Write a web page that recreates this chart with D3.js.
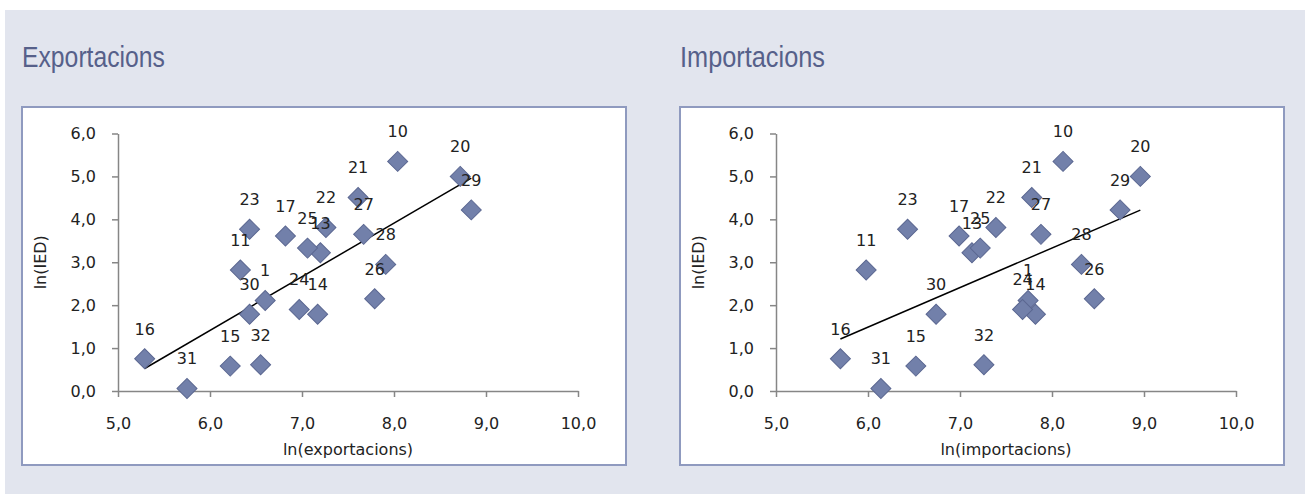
<!DOCTYPE html>
<html>
<head>
<meta charset="utf-8">
<script src="https://cdn.jsdelivr.net/npm/d3@7"></script>
<style>
  html, body { margin: 0; padding: 0; background: #ffffff; }
  svg { display: block; }
</style>
</head>
<body>
<svg id="chart" width="1309" height="494"></svg>
<script>
// Region identifiers (point labels)
const regionIds = [1, 10, 11, 13, 14, 15, 16, 17, 20, 21, 22, 23, 24, 25, 26, 27, 28, 29, 30, 31, 32];
// ln(IED) – shared vertical value of both panels
const lnIED = [2.11, 5.35, 2.82, 3.22, 1.79, 0.58, 0.75, 3.61, 5.00, 4.51, 3.81, 3.77, 1.90, 3.33, 2.15, 3.65, 2.95, 4.22, 1.79, 0.06, 0.61];
// ln(exportacions)
const lnExport = [6.60, 8.04, 6.33, 7.20, 7.17, 6.22, 5.29, 6.82, 8.72, 7.61, 7.26, 6.43, 6.97, 7.06, 7.79, 7.67, 7.91, 8.84, 6.43, 5.75, 6.55];
// ln(importacions)
const lnImport = [7.74, 8.12, 5.98, 7.13, 7.82, 6.52, 5.70, 6.99, 8.96, 7.78, 7.39, 6.43, 7.68, 7.22, 8.46, 7.88, 8.32, 8.74, 6.74, 6.14, 7.26];

const xTickValues = [5, 6, 7, 8, 9, 10];
const yTickValues = [0, 1, 2, 3, 4, 5, 6];

const panelTitles = ["Exportacions", "Importacions"];
const xAxisTitles = ["ln(exportacions)", "ln(importacions)"];
const yAxisTitle = "ln(IED)";

const fmt = d => d.toFixed(1).replace(".", ",");
const FONT = "'DejaVu Sans', Verdana, sans-serif";

const svg = d3.select("#chart");

// page background
svg.append("rect")
  .attr("x", 5).attr("y", 10)
  .attr("width", 1300).attr("height", 484)
  .attr("fill", "#e2e5ee");

const panels = [
  { frameX: 22, axisX: 118, xs: lnExport },
  { frameX: 680, axisX: 776, xs: lnImport }
];

function regression(xs, ys) {
  const n = xs.length;
  const mx = d3.mean(xs), my = d3.mean(ys);
  let sxy = 0, sxx = 0;
  for (let i = 0; i < n; i++) {
    sxy += (xs[i] - mx) * (ys[i] - my);
    sxx += (xs[i] - mx) * (xs[i] - mx);
  }
  const b = sxy / sxx;
  return { a: my - b * mx, b };
}

panels.forEach((p, pi) => {
  const g = svg.append("g");

  // panel title
  g.append("text")
    .attr("x", p.frameX).attr("y", 67)
    .attr("font-family", "'Liberation Sans Narrow', 'Liberation Sans', sans-serif")
    .attr("font-size", 29)
    .attr("fill", "#56608a")
    .attr("textLength", pi === 0 ? 143 : 145)
    .attr("lengthAdjust", "spacingAndGlyphs")
    .text(panelTitles[pi]);

  // white chart frame
  g.append("rect")
    .attr("x", p.frameX).attr("y", 107)
    .attr("width", 604).attr("height", 358)
    .attr("fill", "#ffffff")
    .attr("stroke", "#8f9abf")
    .attr("stroke-width", 2);

  const x = d3.scaleLinear().domain([5, 10]).range([p.axisX, p.axisX + 460]);
  const y = d3.scaleLinear().domain([0, 6]).range([391, 133.5]);

  // x axis
  const xAxis = g.append("g")
    .attr("transform", `translate(0,${y(0)})`)
    .call(d3.axisBottom(x).tickValues(xTickValues).tickSize(6).tickSizeOuter(0).tickPadding(21).tickFormat(fmt));
  // y axis
  const yAxis = g.append("g")
    .attr("transform", `translate(${x(5)},0)`)
    .call(d3.axisLeft(y).tickValues(yTickValues).tickSize(6).tickSizeOuter(0).tickPadding(16).tickFormat(fmt));

  [xAxis, yAxis].forEach(ax => {
    ax.select(".domain").attr("stroke", "#868686").attr("stroke-width", 1.5);
    ax.selectAll(".tick line").attr("stroke", "#868686").attr("stroke-width", 1.5);
    ax.selectAll(".tick text")
      .attr("font-family", FONT).attr("font-size", 16).attr("fill", "#222222");
  });

  // axis titles
  g.append("text")
    .attr("x", (x(5) + x(10)) / 2).attr("y", 455)
    .attr("text-anchor", "middle")
    .attr("font-family", FONT).attr("font-size", 16).attr("fill", "#222222")
    .text(xAxisTitles[pi]);
  g.append("text")
    .attr("transform", `translate(${p.axisX - 72},${(y(0) + y(6)) / 2}) rotate(-90)`)
    .attr("text-anchor", "middle")
    .attr("font-family", FONT).attr("font-size", 16).attr("fill", "#222222")
    .text(yAxisTitle);

  const pts = regionIds.map((id, i) => ({ id, xv: p.xs[i], yv: lnIED[i] }));

  // linear trend line across the range of the data
  const fit = regression(p.xs, lnIED);
  const [x0, x1] = d3.extent(p.xs);
  g.append("line")
    .attr("x1", x(x0)).attr("y1", y(fit.a + fit.b * x0))
    .attr("x2", x(x1)).attr("y2", y(fit.a + fit.b * x1))
    .attr("stroke", "#000000").attr("stroke-width", 1.5);

  // diamond markers
  const diamond = d3.symbol().type(d3.symbolSquare).size(200);
  g.selectAll("path.pt").data(pts).join("path")
    .attr("class", "pt")
    .attr("d", diamond)
    .attr("transform", d => `translate(${x(d.xv)},${y(d.yv)}) rotate(45)`)
    .attr("fill", "#7280aa")
    .attr("stroke", "#5b6791")
    .attr("stroke-width", 1);

  // point labels above each marker
  g.selectAll("text.lbl").data(pts).join("text")
    .attr("class", "lbl")
    .attr("x", d => x(d.xv))
    .attr("y", d => y(d.yv) - 24)
    .attr("text-anchor", "middle")
    .attr("font-family", FONT).attr("font-size", 16).attr("fill", "#222222")
    .text(d => d.id);
});
</script>
</body>
</html>
